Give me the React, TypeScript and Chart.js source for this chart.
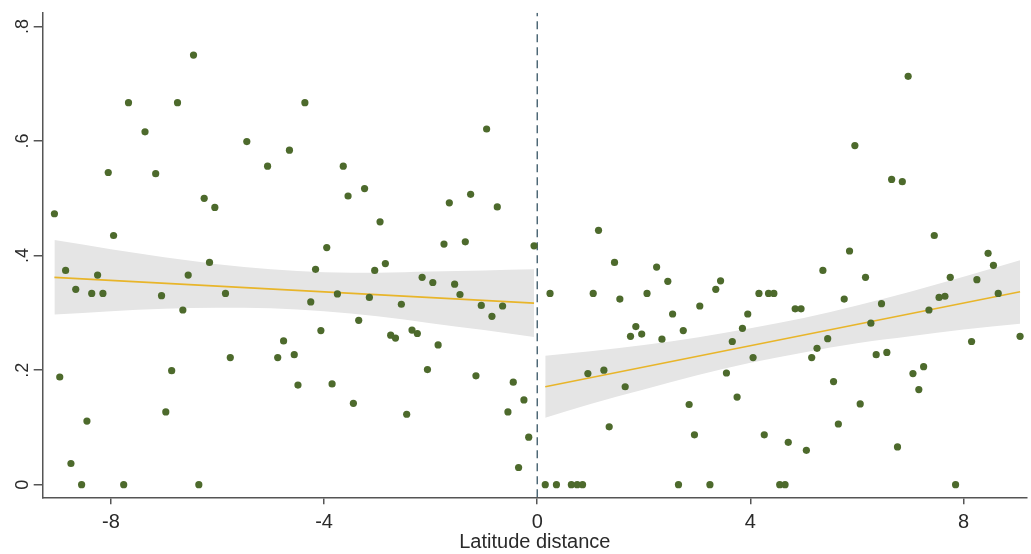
import React, { useEffect, useRef } from 'react';
import { Chart, registerables } from 'chart.js';

Chart.register(...registerables);

// ---- Data ----
const leftX = [
  -6.45, -7.67, -6.75, -7.36, -8.05, -7.16, -5.45, -4.65, -5.06, -9.06,
  -6.25, -6.05, -7.95, -6.15, -8.85, -8.25, -8.66, -8.36, -8.15, -6.55,
  -7.05, -6.65, -5.85, -4.76, -4.87, -4.56, -5.76, -4.49, -8.96, -6.86,
  -6.97, -8.45, -8.75, -8.55, -7.76, -6.35, -4.36, -0.95, -3.64, -3.24,
  -3.55, -1.25, -1.65, -0.75, -2.95, -3.95, -1.75, -1.35, -0.06, -4.16,
  -3.05, -2.85, -2.16, -1.96, -1.55, -1.45, -4.25, -3.75, -3.15, -2.55,
  -1.05, -0.65, -0.85, -3.35, -4.06, -2.75, -2.66, -2.35, -2.25, -1.86,
  -2.06, -3.85, -1.15, -0.45, -3.45, -2.45, -0.25, -0.55, -0.16, -0.35,
];
const leftY = [
  0.750, 0.667, 0.667, 0.616, 0.545, 0.543, 0.599, 0.584, 0.556, 0.473,
  0.500, 0.484, 0.435, 0.388, 0.374, 0.366, 0.341, 0.334, 0.334, 0.366,
  0.330, 0.305, 0.334, 0.251, 0.222, 0.227, 0.222, 0.174, 0.188, 0.199,
  0.127, 0.111, 0.037, 0.000, 0.000, 0.000, 0.667, 0.621, 0.556, 0.517,
  0.504, 0.507, 0.492, 0.485, 0.459, 0.414, 0.420, 0.424, 0.417, 0.376,
  0.374, 0.386, 0.362, 0.353, 0.350, 0.332, 0.319, 0.333, 0.327, 0.315,
  0.313, 0.312, 0.294, 0.287, 0.269, 0.261, 0.256, 0.270, 0.264, 0.244,
  0.201, 0.176, 0.190, 0.179, 0.142, 0.123, 0.148, 0.127, 0.083, 0.030,
];
const rightX = [
  0.15, 0.36, 0.64, 0.75, 0.85, 2.65, 3.24, 4.55, 4.65, 7.85,
  1.15, 1.45, 2.24, 2.45, 3.44, 3.35, 0.24, 1.05, 2.06, 1.55,
  4.16, 4.34, 4.44, 3.05, 2.54, 3.95, 1.85, 1.75, 1.96, 2.74,
  2.34, 3.85, 3.66, 4.05, 0.95, 1.25, 3.55, 1.65, 3.75, 2.85,
  1.35, 2.95, 4.26, 4.71, 5.05, 5.56, 5.65, 6.06, 6.76, 7.16,
  6.96, 5.96, 6.65, 6.85, 7.45, 5.86, 5.36, 8.46, 8.56, 6.16,
  7.75, 8.25, 5.76, 6.46, 7.54, 7.65, 8.65, 4.84, 4.95, 7.35,
  6.26, 5.45, 5.25, 5.15, 6.36, 6.56, 8.15, 9.06, 7.25, 7.05,
];
const rightY = [
  0.000, 0.000, 0.000, 0.000, 0.000, 0.000, 0.000, 0.000, 0.000, 0.000,
  0.444, 0.388, 0.380, 0.355, 0.356, 0.341, 0.334, 0.334, 0.334, 0.324,
  0.334, 0.334, 0.334, 0.312, 0.298, 0.298, 0.276, 0.259, 0.263, 0.269,
  0.254, 0.273, 0.250, 0.222, 0.194, 0.200, 0.195, 0.171, 0.153, 0.140,
  0.101, 0.087, 0.087, 0.074, 0.060, 0.180, 0.106, 0.141, 0.066, 0.166,
  0.713, 0.592, 0.533, 0.529, 0.435, 0.408, 0.374, 0.404, 0.383, 0.362,
  0.362, 0.358, 0.324, 0.316, 0.327, 0.329, 0.334, 0.307, 0.307, 0.305,
  0.282, 0.255, 0.238, 0.222, 0.227, 0.231, 0.250, 0.259, 0.206, 0.194,
];

// Fitted lines and confidence bands
const leftFitX = [-9.06, -0.06];
const leftFitY = [0.362, 0.317];
const rightFitX = [0.15, 9.06];
const rightFitY = [0.171, 0.337];

const leftBandX = [-9.06, -8, -7, -6, -5, -4, -3, -2, -1, -0.06];
const leftUpper = [0.427, 0.411, 0.397, 0.385, 0.376, 0.371, 0.370, 0.372, 0.374, 0.376];
const leftLower = [0.297, 0.303, 0.307, 0.309, 0.308, 0.303, 0.294, 0.282, 0.270, 0.258];

const rightBandX = [0.15, 1, 2, 3, 4, 5, 6, 7, 8, 9.06];
const rightUpper = [0.225, 0.233, 0.244, 0.257, 0.273, 0.291, 0.313, 0.337, 0.363, 0.392];
const rightLower = [0.117, 0.141, 0.166, 0.191, 0.213, 0.231, 0.247, 0.259, 0.271, 0.281];

const cutoffX = 0;

// Axes
const xTicks = [-8, -4, 0, 4, 8];
const yTicks = [0, 0.2, 0.4, 0.6, 0.8];
const yTickLabels = ['0', '.2', '.4', '.6', '.8'];
const xTitle = 'Latitude distance';
const X_MIN = -9.28;
const X_MAX = 9.19;
const Y_MIN = -0.022;
const Y_MAX = 0.824;

const FONT = '"Liberation Sans", Arial, Helvetica, sans-serif';
const POINT_COLOR = '#4d6a2c';
const FIT_COLOR = '#e8b52a';
const BAND_COLOR = '#e5e5e5';
const AXIS_COLOR = '#555555';
const TEXT_COLOR = '#2a2a2a';

const zip = (xs: number[], ys: number[]) => xs.map((x, i) => ({ x, y: ys[i] }));

const yLabelPlugin = {
  id: 'yRotatedLabels',
  afterDraw(chart: any) {
    const ctx = chart.ctx;
    const ys = chart.scales.y;
    ctx.save();
    ctx.font = `18px ${FONT}`;
    ctx.fillStyle = TEXT_COLOR;
    ctx.textAlign = 'center';
    ctx.textBaseline = 'middle';
    yTicks.forEach((v, i) => {
      const py = ys.getPixelForValue(v);
      ctx.save();
      ctx.translate(ys.right - 20, py);
      ctx.rotate(-Math.PI / 2);
      ctx.fillText(yTickLabels[i], 0, 0);
      ctx.restore();
    });
    ctx.restore();
  },
};

export default function App() {
  const canvasRef = useRef<HTMLCanvasElement | null>(null);

  useEffect(() => {
    const canvas = canvasRef.current;
    if (!canvas) return;
    const bandLine = {
      type: 'line' as const,
      pointRadius: 0,
      borderWidth: 0,
      borderColor: 'rgba(0,0,0,0)',
      cubicInterpolationMode: 'monotone' as const,
      order: 4,
    };
    const chart = new Chart(canvas, {
      type: 'scatter',
      data: {
        datasets: [
          { ...bandLine, data: zip(leftBandX, leftUpper), fill: '+1', backgroundColor: BAND_COLOR },
          { ...bandLine, data: zip(leftBandX, leftLower), fill: false },
          { ...bandLine, data: zip(rightBandX, rightUpper), fill: '+1', backgroundColor: BAND_COLOR },
          { ...bandLine, data: zip(rightBandX, rightLower), fill: false },
          {
            type: 'line', data: zip(leftFitX, leftFitY), borderColor: FIT_COLOR, borderWidth: 1.6,
            pointRadius: 0, fill: false, order: 2,
          },
          {
            type: 'line', data: zip(rightFitX, rightFitY), borderColor: FIT_COLOR, borderWidth: 1.6,
            pointRadius: 0, fill: false, order: 2,
          },
          {
            type: 'line', data: [{ x: cutoffX, y: Y_MIN }, { x: cutoffX, y: Y_MAX }],
            borderColor: '#44606f', borderWidth: 1.4, borderDash: [8, 5],
            pointRadius: 0, fill: false, order: 3,
          },
          {
            data: zip(leftX, leftY), backgroundColor: POINT_COLOR, borderWidth: 0,
            pointRadius: 3.6, order: 0,
          },
          {
            data: zip(rightX, rightY), backgroundColor: POINT_COLOR, borderWidth: 0,
            pointRadius: 3.6, order: 0,
          },
        ] as any,
      },
      options: {
        animation: false,
        responsive: false,
        maintainAspectRatio: false,
        layout: { padding: { top: 12.7, left: 0, right: 0, bottom: 0 } },
        plugins: { legend: { display: false }, tooltip: { enabled: false } },
        scales: {
          x: {
            type: 'linear',
            min: X_MIN,
            max: X_MAX,
            afterBuildTicks: (s: any) => { s.ticks = xTicks.map((v) => ({ value: v })); },
            afterFit: (s: any) => { s.height = 554 - 497.3; },
            ticks: {
              font: { size: 20, family: FONT },
              color: TEXT_COLOR,
              padding: 6,
              maxRotation: 0,
              autoSkip: false,
              callback: (v: any) => String(v),
            },
            grid: { display: true, drawOnChartArea: false, drawTicks: true, tickLength: 7, color: AXIS_COLOR, lineWidth: 1.5 },
            border: { display: true, color: AXIS_COLOR, width: 1.5 },
            title: {
              display: true, text: xTitle, color: TEXT_COLOR,
              font: { size: 20, family: FONT }, padding: { top: 0, bottom: 0 },
            },
          },
          y: {
            type: 'linear',
            min: Y_MIN,
            max: Y_MAX,
            afterBuildTicks: (s: any) => { s.ticks = yTicks.map((v) => ({ value: v })); },
            afterFit: (s: any) => { s.width = 42.7; },
            ticks: { display: false },
            grid: { display: true, drawOnChartArea: false, drawTicks: true, tickLength: 9, color: AXIS_COLOR, lineWidth: 1.5 },
            border: { display: true, color: AXIS_COLOR, width: 1.5 },
          },
        },
      } as any,
      plugins: [yLabelPlugin],
    });
    return () => chart.destroy();
  }, []);

  return (
    <div style={{ position: 'absolute', left: 0, top: 0, width: 1031, height: 554, background: '#fff' }}>
      <canvas ref={canvasRef} width={1031} height={554} style={{ display: 'block' }} />
    </div>
  );
}
